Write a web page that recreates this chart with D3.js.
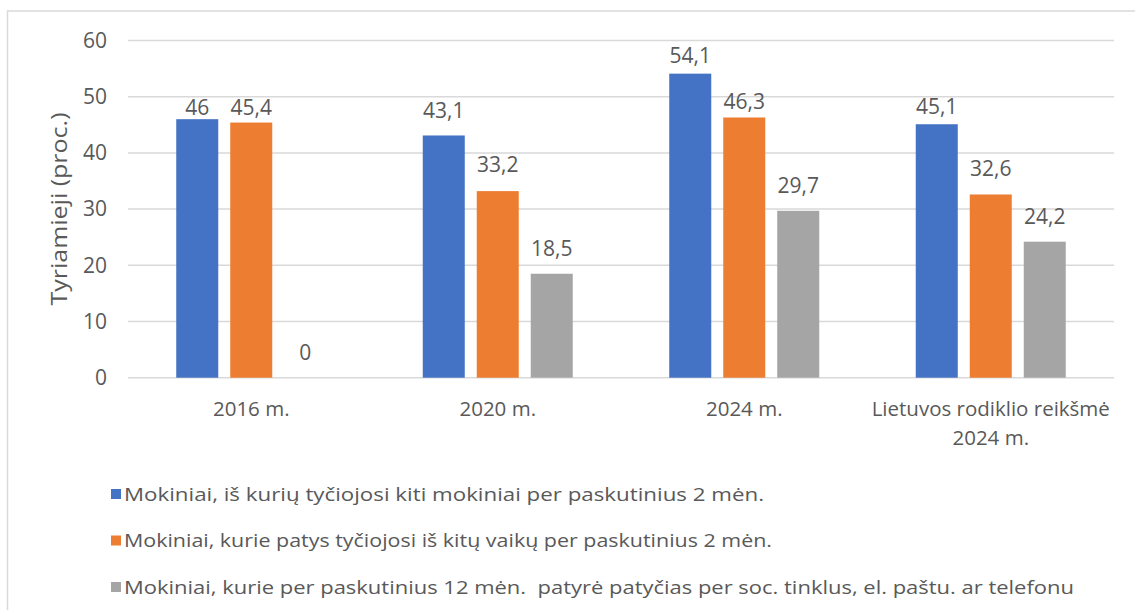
<!DOCTYPE html>
<html>
<head>
<meta charset="utf-8">
<script src="https://cdn.jsdelivr.net/npm/d3@7"></script>
<style>
  body { margin: 0; background: #fff; }
  text { font-family: "Open Sans", "Noto Sans", sans-serif; fill: #595959; }
</style>
</head>
<body>
<script>
const categories = [["2016 m."], ["2020 m."], ["2024 m."], ["Lietuvos rodiklio reikšmė", "2024 m."]];
const series = [
  "Mokiniai, iš kurių tyčiojosi kiti mokiniai per paskutinius 2 mėn.",
  "Mokiniai, kurie patys tyčiojosi iš kitų vaikų per paskutinius 2 mėn.",
  "Mokiniai, kurie per paskutinius 12 mėn.  patyrė patyčias per soc. tinklus, el. paštu. ar telefonu",
];
const bullied = [46, 43.1, 54.1, 45.1];
const bullying = [45.4, 33.2, 46.3, 32.6];
const online = [0, 18.5, 29.7, 24.2];
const yTicks = [0, 10, 20, 30, 40, 50, 60];
// how far above the bar top each label sits (px), as placed in the original
const labelLift = [[4, 8, 18], [17, 19, 18], [11, 8, 18], [10, 18, 18]];
// rendered width of each legend line in the original (px)
const legendWidths = [640, 648, 950];

const colors = ["#4472c4", "#ed7d31", "#a5a5a5"];
const values = [bullied, bullying, online];

const w = 1135, h = 610;
const svg = d3.select("body").append("svg").attr("width", w).attr("height", h);

// outer chart border
svg.append("rect")
  .attr("x", 7.5).attr("y", 11)
  .attr("width", 1140).attr("height", 620)
  .attr("fill", "none").attr("stroke", "#d9d9d9").attr("stroke-width", 1.5);

const x0 = d3.scaleBand().domain(d3.range(categories.length)).range([128, 1114]);
const groupW = 150;
const x1 = d3.scaleBand().domain(d3.range(series.length)).range([0, groupW]).paddingInner(0.222);
const y = d3.scaleLinear().domain([0, 60]).range([377.7, 40.5]);

// gridlines
svg.append("g")
  .selectAll("line")
  .data(yTicks)
  .enter()
  .append("line")
  .attr("x1", 128).attr("x2", 1114)
  .attr("y1", (d) => y(d)).attr("y2", (d) => y(d))
  .attr("stroke", "#d9d9d9").attr("stroke-width", 1.5);

// y tick labels
const yAxis = d3.axisLeft(y).tickValues(yTicks).tickSize(0).tickPadding(0);
const gy = svg.append("g").attr("transform", "translate(107,0)").call(yAxis);
gy.select(".domain").remove();
gy.selectAll("text")
  .attr("font-family", "'Open Sans', sans-serif")
  .attr("font-size", 21)
  .style("fill", "#595959");

// y title
svg.append("text")
  .attr("transform", "translate(67,209) rotate(-90)")
  .attr("text-anchor", "middle")
  .attr("font-size", 22)
  .attr("textLength", 193)
  .attr("lengthAdjust", "spacingAndGlyphs")
  .text("Tyriamieji (proc.)");

// bars
const offset = (x0.bandwidth() - groupW) / 2;
const groups = svg.append("g")
  .selectAll("g")
  .data(categories.map((c, i) => i))
  .enter()
  .append("g")
  .attr("transform", (i) => "translate(" + (x0(i) + offset) + ",0)");

groups.selectAll("rect")
  .data((i) => values.map((v, s) => ({ s, v: v[i], i })))
  .enter()
  .append("rect")
  .attr("x", (d) => x1(d.s))
  .attr("width", x1.bandwidth())
  .attr("y", (d) => y(d.v))
  .attr("height", (d) => y(0) - y(d.v))
  .attr("fill", (d) => colors[d.s]);

groups.selectAll("text")
  .data((i) => values.map((v, s) => ({ s, v: v[i], i })))
  .enter()
  .append("text")
  .attr("x", (d) => x1(d.s) + x1.bandwidth() / 2)
  .attr("y", (d) => y(d.v) - labelLift[d.i][d.s])
  .attr("text-anchor", "middle")
  .attr("font-size", 21)
  .text((d) => String(d.v).replace(".", ","));

// category labels
const cat = svg.append("g")
  .selectAll("text")
  .data(categories)
  .enter()
  .append("text")
  .attr("x", (d, i) => x0(i) + x0.bandwidth() / 2)
  .attr("y", 416)
  .attr("text-anchor", "middle")
  .attr("font-size", 20.5);
cat.selectAll("tspan")
  .data((d) => d)
  .enter()
  .append("tspan")
  .attr("x", function () { return this.parentNode.getAttribute("x"); })
  .attr("dy", (d, j) => (j === 0 ? 0 : 29))
  .text((d) => d);

// legend
const legend = svg.append("g")
  .selectAll("g")
  .data(series)
  .enter()
  .append("g")
  .attr("transform", (d, i) => "translate(111," + (494 + i * 46.5) + ")");
legend.append("rect")
  .attr("x", 0).attr("y", -5)
  .attr("width", 10).attr("height", 10)
  .attr("fill", (d, i) => colors[i]);
legend.append("text")
  .attr("x", 13)
  .attr("y", 6.5)
  .attr("font-size", 17.5)
  .attr("xml:space", "preserve")
  .style("white-space", "pre")
  .attr("textLength", (d, i) => legendWidths[i])
  .attr("lengthAdjust", "spacingAndGlyphs")
  .text((d) => d);
</script>
</body>
</html>
